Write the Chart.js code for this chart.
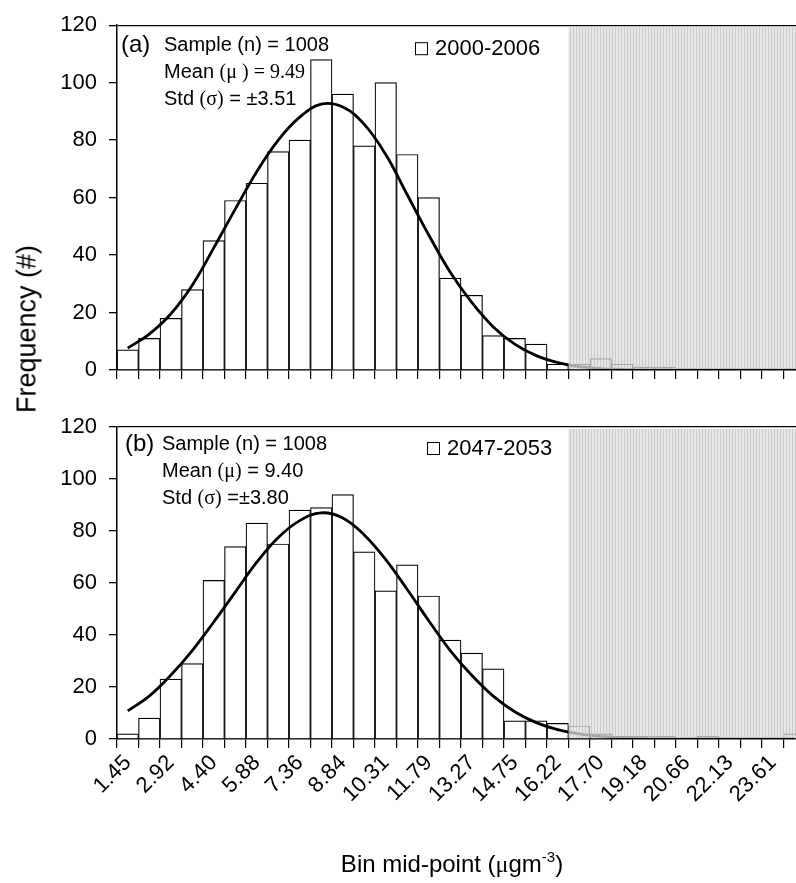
<!DOCTYPE html>
<html>
<head>
<meta charset="utf-8">
<script src="https://cdn.jsdelivr.net/npm/chart.js@4.4.0/dist/chart.umd.min.js"></script>
<style>
  html, body { margin: 0; padding: 0; background: #fff; }
  body { width: 796px; height: 883px; overflow: hidden; position: relative; }
  canvas { position: absolute; left: 0; }
  #chartA { top: 0; }
  #chartB { top: 400px; }
  #yTitle {
    position: absolute; left: 27px; top: 329px;
    transform: translate(-50%, -50%) rotate(-90deg);
    font: 27px "Liberation Sans", Arial, sans-serif; color: #000;
    white-space: nowrap;
  }
</style>
</head>
<body>
<canvas id="chartA" width="805" height="400"></canvas>
<canvas id="chartB" width="805" height="483"></canvas>
<div id="yTitle">Frequency (#)</div>
<script>
// ============================================================
// Data
// ============================================================

const binMidpoints = ["1.45", "2.19", "2.92", "3.66", "4.40", "5.14", "5.88", "6.62",
  "7.36", "8.10", "8.84", "9.57", "10.31", "11.05", "11.79", "12.53",
  "13.27", "14.01", "14.75", "15.48", "16.22", "16.96", "17.70", "18.44",
  "19.18", "19.92", "20.66", "21.39", "22.13", "22.87", "23.61", "24.35"];

// (a) 2000-2006
const countsA = [7, 11, 18, 28, 45, 59, 65, 76, 80, 108, 96, 78, 100, 75, 60, 32,
  26, 12, 11, 9, 2, 2, 4, 2, 1, 1, 0, 0, 0, 0, 0, 0];
const fitA = [7.6, 12.5, 19.5, 29.5, 42.5, 56, 69, 80, 88, 92.5, 91.5, 85.5, 75, 61, 47, 34,
  23.5, 15, 9, 5, 2.6, 1.2, 0.5, 0.2, 0, 0, 0, 0, 0, 0, 0, 0];

// (b) 2047-2053
const countsB = [2, 8, 23, 29, 61, 74, 83, 75, 88, 89, 94, 72, 57, 67, 55, 38,
  33, 27, 7, 7, 6, 5, 2, 1, 1, 1, 0, 1, 0, 0, 0, 2];
const fitB = [10.8, 16.5, 24.5, 34, 45, 56.5, 68, 77.5, 84, 87, 85, 78.5, 69, 57.5, 45.5, 34,
  24.5, 16.5, 10.5, 6.3, 3.6, 2, 1, 0.4, 0.1, 0, 0, 0, 0, 0, 0, 0];

const yMax = 120;
const yStep = 20;
const shadeFromBin = 21;   // first bin of the shaded range

const SANS = '"Liberation Sans", Arial, sans-serif';
const SERIF = '"Liberation Serif", "Times New Roman", serif';

const statsA = [
  [["Sample (n) = 1008", SANS]],
  [["Mean ", SANS], ["(\u03bc ) = 9.49", SERIF]],
  [["Std ", SANS], ["(\u03c3)", SERIF], [" = \u00b13.51", SANS]]
];
const statsB = [
  [["Sample (n) = 1008", SANS]],
  [["Mean ", SANS], ["(\u03bc)", SERIF], [" = 9.40", SANS]],
  [["Std ", SANS], ["(\u03c3)", SERIF], [" =\u00b13.80", SANS]]
];

// ============================================================
// Helpers
// ============================================================

function drawSegments(ctx, x, y, segs, size) {
    ctx.textBaseline = "alphabetic";
    ctx.textAlign = "left";
    for (const s of segs) {
        const sz = s[2] || size;
        ctx.font = sz + "px " + s[1];
        ctx.fillText(s[0], x, y - (s[3] || 0));
        x += ctx.measureText(s[0]).width;
    }
    return x;
}

function segWidth(ctx, segs, size) {
    let w = 0;
    for (const s of segs) {
        ctx.font = (s[2] || size) + "px " + s[1];
        w += ctx.measureText(s[0]).width;
    }
    return w;
}

function makeShadePattern(ctx) {
    const c = document.createElement("canvas");
    c.width = 3;
    c.height = 2;
    const p = c.getContext("2d");
    p.fillStyle = "rgba(222,222,222,0.72)";
    p.fillRect(0, 0, 3, 2);
    p.fillStyle = "rgba(190,190,190,0.72)";
    p.fillRect(0, 0, 1, 2);
    return ctx.createPattern(c, "repeat");
}

// shaded (hatched) region over the upper bins
const shadePlugin = {
    id: "shade",
    afterDatasetsDraw(chart) {
        const ctx = chart.ctx;
        const x = chart.scales.x;
        const { top, bottom, right } = chart.chartArea;
        const left = (x.getPixelForValue(shadeFromBin - 1) + x.getPixelForValue(shadeFromBin)) / 2;
        ctx.save();
        ctx.fillStyle = makeShadePattern(ctx);
        ctx.fillRect(left, top + 2, right - left, bottom - top - 3);
        ctx.restore();
    }
};

// panel tag, statistics and legend box
const panelTextPlugin = {
    id: "panelText",
    afterDraw(chart, args, opts) {
        const ctx = chart.ctx;
        const top = chart.chartArea.top;
        ctx.save();
        ctx.fillStyle = "#000";
        ctx.font = "24px " + SANS;
        ctx.textBaseline = "alphabetic";
        ctx.fillText(opts.tag, opts.tagX, top + opts.lineY[0] + 1);
        opts.lines.forEach((segs, i) => {
            drawSegments(ctx, opts.statX, top + opts.lineY[i], segs, 20);
        });
        // legend
        ctx.strokeStyle = "#000";
        ctx.lineWidth = 1;
        ctx.strokeRect(opts.legendX + 0.5, top + opts.legendY - 12.5, 12, 12);
        ctx.font = "22px " + SANS;
        ctx.fillText(opts.period, opts.legendX + 20, top + opts.legendY);
        ctx.restore();
    }
};

// x axis title with superscript
const xTitlePlugin = {
    id: "xTitle",
    afterDraw(chart, args, opts) {
        if (!opts.show) return;
        const ctx = chart.ctx;
        const segs = [
            ["Bin mid-point (", SANS],
            ["\u03bc", SERIF],
            ["gm", SANS],
            ["-3", SANS, 15, 10],
            [")", SANS]
        ];
        ctx.save();
        ctx.fillStyle = "#000";
        const w = segWidth(ctx, segs, 24);
        drawSegments(ctx, opts.cx - w / 2, opts.baseline, segs, 24);
        ctx.restore();
    }
};

// ============================================================
// Chart builder
// ============================================================

function buildPanel(canvasId, counts, fit, opts) {
    const ctx = document.getElementById(canvasId).getContext("2d");

    return new Chart(ctx, {
        type: "bar",
        data: {
            labels: binMidpoints,
            datasets: [
                {
                    type: "line",
                    data: fit,
                    borderColor: "#000",
                    borderWidth: 2.8,
                    pointRadius: 0,
                    tension: 0.4,
                    order: 1
                },
                {
                    type: "bar",
                    data: counts,
                    backgroundColor: "#fff",
                    borderColor: "#000",
                    borderWidth: 1.2,
                    barPercentage: 1,
                    categoryPercentage: 1,
                    order: 2
                }
            ]
        },
        options: {
            responsive: false,
            animation: false,
            events: [],
            layout: { padding: { top: opts.padTop, left: 0, right: 0, bottom: 0 } },
            scales: {
                x: {
                    type: "category",
                    offset: true,
                    grid: {
                        offset: true,
                        drawOnChartArea: false,
                        tickLength: 9,
                        color: "#000",
                        tickColor: "#000",
                        lineWidth: 1.2
                    },
                    border: { color: "#000", width: 1.5 },
                    ticks: {
                        display: opts.showLabels,
                        autoSkip: false,
                        minRotation: 45,
                        maxRotation: 45,
                        padding: 2,
                        color: "#000",
                        font: { size: 22, family: SANS },
                        callback: function (val, i) {
                            return i % 2 === 0 ? this.getLabelForValue(val) : "";
                        }
                    },
                    afterFit: s => {
                        s.height = opts.xHeight;
                        s.paddingLeft = 0;
                        s.paddingRight = 0;
                    }
                },
                y: {
                    min: 0,
                    max: yMax,
                    ticks: {
                        stepSize: yStep,
                        padding: 12,
                        color: "#000",
                        font: { size: 22, family: SANS }
                    },
                    grid: {
                        color: c => (c.tick && c.tick.value === yMax ? "#000" : "rgba(0,0,0,0)"),
                        tickColor: "#000",
                        tickLength: 8,
                        lineWidth: 1.3
                    },
                    border: { color: "#000", width: 1.5 },
                    afterFit: s => { s.width = 117; }
                }
            },
            plugins: {
                legend: { display: false },
                tooltip: { enabled: false },
                panelText: opts.text,
                xTitle: { show: opts.showLabels, cx: 452, baseline: 472 }
            }
        },
        plugins: [shadePlugin, panelTextPlugin, xTitlePlugin]
    });
}

// ============================================================
// Init
// ============================================================

buildPanel("chartA", countsA, fitA, {
    padTop: 17,
    xHeight: 30,
    showLabels: false,
    text: { tag: "(a)", tagX: 121, statX: 164, lines: statsA, lineY: [26, 53, 80],
            legendX: 415, legendY: 30, period: "2000-2006" }
});

buildPanel("chartB", countsB, fitB, {
    padTop: 27,
    xHeight: 144,
    showLabels: true,
    text: { tag: "(b)", tagX: 125, statX: 162, lines: statsB, lineY: [23, 50, 77],
            legendX: 427, legendY: 28, period: "2047-2053" }
});
</script>
</body>
</html>
